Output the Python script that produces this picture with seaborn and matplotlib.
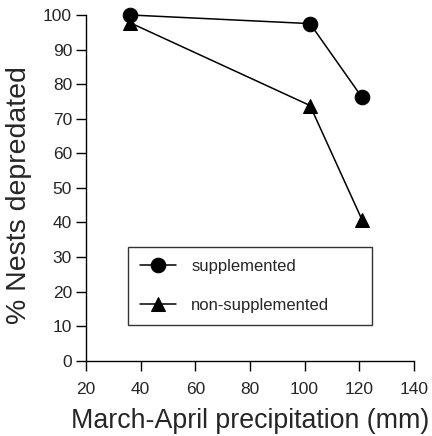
import matplotlib
matplotlib.use("Agg")
import matplotlib.pyplot as plt
import seaborn as sns
import pandas as pd

precip = [36, 102, 121]
supplemented = [100, 97.5, 76.2]
non_supplemented = [97.8, 73.8, 40.8]
series_names = ["supplemented", "non-supplemented"]
x_ticks = [20, 40, 60, 80, 100, 120, 140]
y_ticks = [0, 10, 20, 30, 40, 50, 60, 70, 80, 90, 100]

df = pd.DataFrame({
    "precip": precip * 2,
    "pct": supplemented + non_supplemented,
    "group": [series_names[0]] * 3 + [series_names[1]] * 3,
})

sns.set_style("ticks")
plt.rcParams["font.family"] = ["Liberation Sans", "DejaVu Sans"]

fig = plt.figure(figsize=(4.32, 4.36), dpi=100)
ax = fig.add_axes([0.199, 0.1727, 0.759, 0.793])

sns.lineplot(data=df, x="precip", y="pct", hue="group", style="group",
             markers={"supplemented": "o", "non-supplemented": "^"},
             dashes=False, palette={"supplemented": "black", "non-supplemented": "black"},
             markersize=10.5, linewidth=1.1, markeredgecolor="black",
             ax=ax, clip_on=False, legend=True)

ax.set_xlim(20, 140)
ax.set_ylim(0, 100)
ax.set_xticks(x_ticks)
ax.set_yticks(y_ticks)
ax.tick_params(axis="both", direction="out", length=7, width=1.0, labelsize=12.5, color="black")
ax.tick_params(axis="x", pad=8)
ax.tick_params(axis="y", pad=3)
for s in ["left", "bottom"]:
    ax.spines[s].set_linewidth(1.0)
    ax.spines[s].set_color("black")
sns.despine(ax=ax)

ax.set_xlabel("March-April precipitation (mm)", fontsize=19.3, labelpad=8)
ax.set_ylabel("% Nests depredated", fontsize=20.5)
ax.yaxis.set_label_coords(-0.165, 0.478)

leg = ax.legend(loc="lower left", bbox_to_anchor=(0.128, 0.104, 0.743, 0.231), mode="expand",
                borderaxespad=0, fontsize=12, frameon=True, fancybox=False,
                handlelength=2.2, handletextpad=0.9, labelspacing=1.45, borderpad=0.7)
leg.get_frame().set_edgecolor("black")
leg.get_frame().set_linewidth(1.0)

fig.savefig("out.png", dpi=100)
